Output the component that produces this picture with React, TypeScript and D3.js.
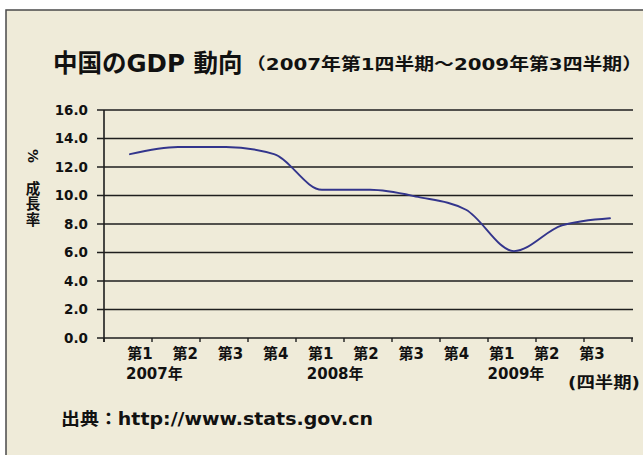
import React from "react";
import * as d3 from "d3";

const categories = [
  "2007Q1", "2007Q2", "2007Q3", "2007Q4",
  "2008Q1", "2008Q2", "2008Q3", "2008Q4",
  "2009Q1", "2009Q2", "2009Q3",
];
const quarterLabels = ["第1", "第2", "第3", "第4", "第1", "第2", "第3", "第4", "第1", "第2", "第3"];
const growth = [12.9, 13.4, 13.4, 12.9, 10.4, 10.4, 9.9, 9.0, 6.1, 7.9, 8.4];
const yTicks = [0, 2, 4, 6, 8, 10, 12, 14, 16];
const yearLabels = ["2007年", "2008年", "2009年"];
const yearAt = ["2007Q1", "2008Q1", "2009Q1"];
const titleMain = "中国のGDP 動向";
const titleSub = "（2007年第1四半期～2009年第3四半期）";
const yAxisUnit = "%";
const yAxisTitle = "成長率";
const xAxisUnit = "(四半期)";
const sourceText = "出典：http://www.stats.gov.cn";

const W = 643;
const H = 455;
const LATIN = "'DejaVu Sans', 'Noto Sans CJK JP', sans-serif";
const CJK = "'Noto Sans CJK JP', 'DejaVu Sans', sans-serif";

export default function App() {
  const plotL = 104;
  const plotR = 632;
  const plotT = 110;
  const plotB = 338;

  const band = d3.scaleBand<string>().domain(categories).range([plotL, plotR]).padding(0);
  const xPoint = d3.scalePoint<string>().domain(categories).range([130, 610]);
  const xLabel = d3.scalePoint<string>().domain(categories).range([140, 592]);
  const y = d3.scaleLinear().domain([0, 16]).range([plotB, plotT]);

  const line = d3
    .line<number>()
    .x((_, i) => xPoint(categories[i]) as number)
    .y((d) => y(d))
    .curve(d3.curveMonotoneX);

  const tickXs = [...categories.map((c) => band(c) as number), plotR];
  const gridColor = "#1e1e1e";

  return (
    <svg
      width={W}
      height={H}
      style={{ position: "absolute", left: 0, top: 0, background: "#ffffff" }}
    >
      <rect x={6} y={10} width={W + 20} height={H + 20} fill="#efebd9" stroke="#4a4a4a" strokeWidth={1.5} />

      {/* title */}
      <text x={53} y={72} fontFamily={LATIN} fontWeight="bold" fontSize={24.5} fill="#111">
        {titleMain}
      </text>
      <text x={246} y={70} fontFamily={LATIN} fontWeight="bold" fontSize={16.5} fill="#111"
        textLength={396} lengthAdjust="spacingAndGlyphs">
        {titleSub}
      </text>

      {/* gridlines */}
      {yTicks.map((t) => (
        <line key={"g" + t} x1={plotL - 7} x2={plotR + 1} y1={y(t)} y2={y(t)}
          stroke={gridColor} strokeWidth={1.6} />
      ))}
      {/* y axis */}
      <line x1={plotL} x2={plotL} y1={plotT} y2={plotB + 4} stroke={gridColor} strokeWidth={1.6} />
      {/* x ticks */}
      {tickXs.map((tx, i) => (
        <line key={"xt" + i} x1={tx} x2={tx} y1={plotB} y2={plotB + 4} stroke={gridColor} strokeWidth={1.4} />
      ))}

      {/* y tick labels */}
      {yTicks.map((t) => (
        <text key={"yl" + t} x={88} y={y(t)} dy="0.36em" textAnchor="end"
          fontFamily={LATIN} fontWeight="bold" fontSize={13.5} fill="#111">
          {d3.format(".1f")(t)}
        </text>
      ))}

      {/* y axis title */}
      <text transform={`translate(33,156) rotate(90)`} textAnchor="middle" dy="0.36em"
        fontFamily={LATIN} fontWeight="bold" fontSize={14} fill="#111">
        {yAxisUnit}
      </text>
      <text x={33} y={181} style={{ writingMode: "vertical-rl", letterSpacing: "1.2px" }}
        fontFamily={CJK} fontWeight="bold" fontSize={14.5} fill="#111">
        {yAxisTitle}
      </text>

      {/* x labels */}
      {categories.map((c, i) => (
        <text key={"xl" + c} x={xLabel(c)} y={359} textAnchor="middle"
          fontFamily={LATIN} fontWeight="bold" fontSize={15} fill="#111">
          {quarterLabels[i]}
        </text>
      ))}
      {yearLabels.map((lab, i) => (
        <text key={"yr" + lab} x={(xLabel(yearAt[i]) as number) - 14} y={379}
          fontFamily={LATIN} fontWeight="bold" fontSize={15} fill="#111">
          {lab}
        </text>
      ))}
      <text x={568} y={388} fontFamily={LATIN} fontWeight="bold" fontSize={15.5} fill="#111"
        textLength={72} lengthAdjust="spacingAndGlyphs">
        {xAxisUnit}
      </text>

      {/* data line */}
      <path d={line(growth) || ""} fill="none" stroke="#33358c" strokeWidth={1.9}
        strokeLinejoin="round" strokeLinecap="round" />

      {/* source */}
      <text x={61} y={425} fontFamily={LATIN} fontWeight="bold" fontSize={17.5} fill="#111"
        textLength={312} lengthAdjust="spacingAndGlyphs">
        {sourceText}
      </text>
    </svg>
  );
}
